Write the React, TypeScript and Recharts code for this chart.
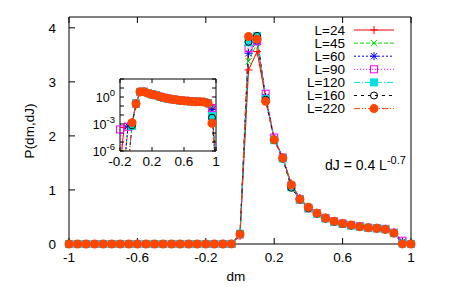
import React from 'react';
import { LineChart, Line, XAxis, YAxis } from 'recharts';

// dm grid, -1 .. 1 in steps of 0.05
const DM = [
  -1, -0.95, -0.9, -0.85, -0.8, -0.75, -0.7, -0.65, -0.6, -0.55, -0.5,
  -0.45, -0.4, -0.35, -0.3, -0.25, -0.2, -0.15, -0.1, -0.05, 0,
  0.05, 0.1, 0.15, 0.2, 0.25, 0.3, 0.35, 0.4, 0.45, 0.5,
  0.55, 0.6, 0.65, 0.7, 0.75, 0.8, 0.85, 0.9, 0.95, 1,
];

const LABELS = ['L=24', 'L=45', 'L=60', 'L=90', 'L=120', 'L=160', 'L=220'];

// P(dm,dJ) per system size
const P_L24 = [
  0, 0, 0, 0, 0, 0, 0, 0, 0, 0, 0, 0, 0, 0, 0, 0,
  1e-8, 4e-4, 5e-4, 1.5e-3, 0.15, 3.22, 3.56, 2.7, 1.95,
  1.6, 1.12, 0.85, 0.68, 0.58, 0.49, 0.42, 0.38, 0.35, 0.33,
  0.31, 0.3, 0.28, 0.22, 0.05, 1e-8,
];
const P_L45 = [
  0, 0, 0, 0, 0, 0, 0, 0, 0, 0, 0, 0, 0, 0, 0, 0,
  0, 1e-8, 4e-4, 8e-4, 0.17, 3.38, 3.72, 2.72, 1.94,
  1.6, 1.1, 0.84, 0.68, 0.57, 0.49, 0.42, 0.38, 0.35, 0.33,
  0.31, 0.3, 0.28, 0.21, 0.04, 1e-8,
];
const P_L60 = [
  0, 0, 0, 0, 0, 0, 0, 0, 0, 0, 0, 0, 0, 0, 0, 0,
  1e-8, 1e-8, 6e-4, 1e-3, 0.18, 3.53, 3.75, 2.72, 1.95,
  1.6, 1.08, 0.84, 0.67, 0.57, 0.48, 0.42, 0.38, 0.35, 0.32,
  0.3, 0.29, 0.28, 0.21, 0.04, 1e-8,
];
const P_L90 = [
  0, 0, 0, 0, 0, 0, 0, 0, 0, 0, 0, 0, 0, 0, 0, 0,
  2.5e-4, 1e-8, 5e-4, 9e-4, 0.18, 3.62, 3.75, 2.78, 1.97,
  1.6, 1.08, 0.82, 0.66, 0.57, 0.48, 0.42, 0.38, 0.35, 0.33,
  0.3, 0.29, 0.28, 0.21, 0.06, 1e-8,
];
const P_L120 = [
  0, 0, 0, 0, 0, 0, 0, 0, 0, 0, 0, 0, 0, 0, 0, 0,
  1e-8, 1e-8, 1e-8, 6e-4, 0.19, 3.73, 3.85, 2.68, 1.92,
  1.58, 1.05, 0.82, 0.66, 0.56, 0.47, 0.41, 0.37, 0.34, 0.32,
  0.3, 0.29, 0.27, 0.2, 0.008, 1e-8,
];
const P_L160 = [
  0, 0, 0, 0, 0, 0, 0, 0, 0, 0, 0, 0, 0, 0, 0, 0,
  0, 1e-8, 1e-8, 7e-4, 0.19, 3.74, 3.85, 2.67, 1.92,
  1.58, 1.04, 0.82, 0.66, 0.56, 0.47, 0.41, 0.37, 0.34, 0.32,
  0.3, 0.29, 0.27, 0.2, 0.005, 1e-8,
];
const P_L220 = [
  0, 0, 0, 0, 0, 0, 0, 0, 0, 0, 0, 0, 0, 0, 0, 0,
  0, 0, 1e-8, 1.4e-3, 0.18, 3.84, 3.79, 2.64, 1.93,
  1.59, 1.09, 0.83, 0.68, 0.57, 0.48, 0.42, 0.38, 0.35, 0.32,
  0.3, 0.29, 0.27, 0.2, 1.2e-3, 1e-8,
];

const VALUES = [P_L24, P_L45, P_L60, P_L90, P_L120, P_L160, P_L220];

const MAIN_X_TICKS = [-1, -0.6, -0.2, 0.2, 0.6, 1];
const MAIN_Y_TICKS = [0, 1, 2, 3, 4];
const INSET_X_TICKS = [-0.2, 0.2, 0.6, 1];
const INSET_Y_TICKS = [1e-6, 1e-5, 1e-4, 1e-3, 1e-2, 1e-1, 1, 10, 100];
const INSET_Y_LABELED = [0, -3, -6];

type Shape = 'plus' | 'cross' | 'star' | 'square' | 'fsquare' | 'circle' | 'fcircle';

const STYLES: { color: string; dash?: string; shape: Shape }[] = [
  { color: '#ff0000', shape: 'plus' },
  { color: '#00e000', dash: '4 2', shape: 'cross' },
  { color: '#0000ff', dash: '2 2', shape: 'star' },
  { color: '#ff00ff', dash: '1 2', shape: 'square' },
  { color: '#00e0e0', dash: '6 2 1 2', shape: 'fsquare' },
  { color: '#000000', dash: '3 4', shape: 'circle' },
  { color: '#ff4500', dash: '6 2 1 2 1 2', shape: 'fcircle' },
];

const FONT = '"Liberation Sans", Arial, Helvetica, sans-serif';

const keyOf = (i: number) => `s${i}`;

const mainData = DM.map((dm, j) => {
  const row: Record<string, number | null> = { dm };
  VALUES.forEach((v, i) => (row[keyOf(i)] = v[j]));
  return row;
});

// log-scale inset: only dm >= -0.2, zero values cannot be drawn
const insetData = DM.map((dm, j) => {
  const row: Record<string, number | null> = { dm };
  VALUES.forEach((v, i) => (row[keyOf(i)] = v[j] > 0 ? v[j] : null));
  return row;
}).filter((r) => (r.dm as number) >= -0.2 - 1e-9);

function Marker({ x, y, shape, color }: { x: number; y: number; shape: Shape; color: string }) {
  const h = 4;
  const c = 3.2;
  const plus = `M${x - h},${y}H${x + h}M${x},${y - h}V${y + h}`;
  const cross = `M${x - c},${y - c}L${x + c},${y + c}M${x - c},${y + c}L${x + c},${y - c}`;
  switch (shape) {
    case 'plus':
      return <path d={plus} stroke={color} fill="none" />;
    case 'cross':
      return <path d={cross} stroke={color} fill="none" />;
    case 'star':
      return <path d={plus + cross} stroke={color} fill="none" />;
    case 'square':
      return <rect x={x - 3.5} y={y - 3.5} width={7} height={7} stroke={color} fill="none" />;
    case 'fsquare':
      return <rect x={x - 3.5} y={y - 3.5} width={7} height={7} stroke={color} fill={color} />;
    case 'circle':
      return <circle cx={x} cy={y} r={3.5} stroke={color} fill="none" />;
    default:
      return <circle cx={x} cy={y} r={4.5} fill={color} />;
  }
}

const dotFor = (i: number, tag: string) => (p: any) => {
  const k = `${tag}-${i}-${p.index}`;
  if (p.cx == null || p.cy == null || !isFinite(p.cy) || !isFinite(p.cx)) return <g key={k} />;
  return (
    <g key={k}>
      <Marker x={p.cx} y={p.cy} shape={STYLES[i].shape} color={STYLES[i].color} />
    </g>
  );
};

const LogTick = (p: any) => {
  const e = Math.round(Math.log10(p.payload.value));
  if (!INSET_Y_LABELED.includes(e)) return <g />;
  return (
    <text x={p.x} y={p.y} dy={4.5} textAnchor="end" fontSize={12.5} fill="#000" fontFamily={FONT}>
      <tspan>10</tspan>
      <tspan dy={-6} fontSize={9.5}>{e}</tspan>
    </text>
  );
};

const axisStyle = { stroke: '#000' };
const tickStyle = { fill: '#000', fontSize: 13.5, fontFamily: FONT };
const blank = () => '';

export default function App() {
  return (
    <div style={{ position: 'absolute', left: 0, top: 0, width: 460, height: 287, background: '#fff', fontFamily: FONT }}>
      <div style={{ position: 'absolute', left: 0, top: 0 }}>
        <LineChart width={460} height={287} data={mainData} margin={{ top: 16, right: 48, bottom: 0, left: 0 }}>
          <XAxis xAxisId="b" dataKey="dm" type="number" domain={[-1, 1]} ticks={MAIN_X_TICKS} interval={0}
            height={43} tickSize={-6} tickMargin={14} axisLine={axisStyle} tickLine={axisStyle} tick={tickStyle} />
          <XAxis xAxisId="t" orientation="top" dataKey="dm" type="number" domain={[-1, 1]} ticks={MAIN_X_TICKS} interval={0}
            height={1} tickSize={-6} axisLine={axisStyle} tickLine={axisStyle} tickFormatter={blank} />
          <YAxis yAxisId="l" type="number" domain={[0, 4.2]} ticks={MAIN_Y_TICKS} interval={0}
            width={69} tickSize={-6} tickMargin={19} axisLine={axisStyle} tickLine={axisStyle} tick={tickStyle} />
          <YAxis yAxisId="r" orientation="right" type="number" domain={[0, 4.2]} ticks={MAIN_Y_TICKS} interval={0}
            width={1} tickSize={-6} axisLine={axisStyle} tickLine={axisStyle} tickFormatter={blank} />
          {VALUES.map((_, i) => (
            <Line key={keyOf(i)} type="linear" dataKey={keyOf(i)} xAxisId="b" yAxisId="l"
              stroke={STYLES[i].color} strokeWidth={1} strokeDasharray={STYLES[i].dash}
              dot={dotFor(i, 'm')} activeDot={false} isAnimationActive={false} />
          ))}
        </LineChart>
      </div>

      <div style={{ position: 'absolute', left: 80, top: 70 }}>
        <LineChart width={150} height={100} data={insetData} margin={{ top: 8, right: 13, bottom: 0, left: 0 }}>
          <XAxis xAxisId="b" dataKey="dm" type="number" domain={[-0.2, 1]} ticks={INSET_X_TICKS} interval={0}
            height={19} tickSize={-4} tickMargin={9} axisLine={axisStyle} tickLine={axisStyle} tick={tickStyle} />
          <XAxis xAxisId="t" orientation="top" dataKey="dm" type="number" domain={[-0.2, 1]} ticks={INSET_X_TICKS} interval={0}
            height={1} tickSize={-4} axisLine={axisStyle} tickLine={axisStyle} tickFormatter={blank} />
          <YAxis yAxisId="l" scale="log" type="number" domain={[1e-6, 100]} allowDataOverflow ticks={INSET_Y_TICKS} interval={0}
            width={40} tickSize={-4} tickMargin={9} axisLine={axisStyle} tickLine={axisStyle} tick={<LogTick />} />
          <YAxis yAxisId="r" orientation="right" scale="log" type="number" domain={[1e-6, 100]} allowDataOverflow ticks={INSET_Y_TICKS} interval={0}
            width={1} tickSize={-4} axisLine={axisStyle} tickLine={axisStyle} tickFormatter={blank} />
          {VALUES.map((_, i) => (
            <Line key={keyOf(i)} type="linear" dataKey={keyOf(i)} xAxisId="b" yAxisId="l"
              stroke={STYLES[i].color} strokeWidth={1} strokeDasharray={STYLES[i].dash}
              dot={dotFor(i, 'i')} activeDot={false} isAnimationActive={false} />
          ))}
        </LineChart>
      </div>

      <svg width={460} height={287} style={{ position: 'absolute', left: 0, top: 0, pointerEvents: 'none' }}
        fontFamily={FONT}>
        <text transform="translate(29,131) rotate(-90)" textAnchor="middle" dy="0.35em" fontSize={13.5} fill="#000">
          P(dm,dJ)
        </text>
        <text x={236} y={276} dy="0.35em" textAnchor="middle" fontSize={13.5} fill="#000">dm</text>
        {LABELS.map((label, i) => {
          const y = 30 + i * 13.1;
          const s = STYLES[i];
          return (
            <g key={label}>
              <text x={345} y={y} dy="0.36em" textAnchor="end" fontSize={13.5} fill="#000">{label}</text>
              <line x1={354} x2={394} y1={y} y2={y} stroke={s.color} strokeDasharray={s.dash} />
              <Marker x={374} y={y} shape={s.shape} color={s.color} />
            </g>
          );
        })}
        <text x={325} y={170} fontSize={14} fill="#000">
          dJ = 0.4 L<tspan dy={-6} fontSize={11}>-0.7</tspan>
        </text>
      </svg>
    </div>
  );
}
